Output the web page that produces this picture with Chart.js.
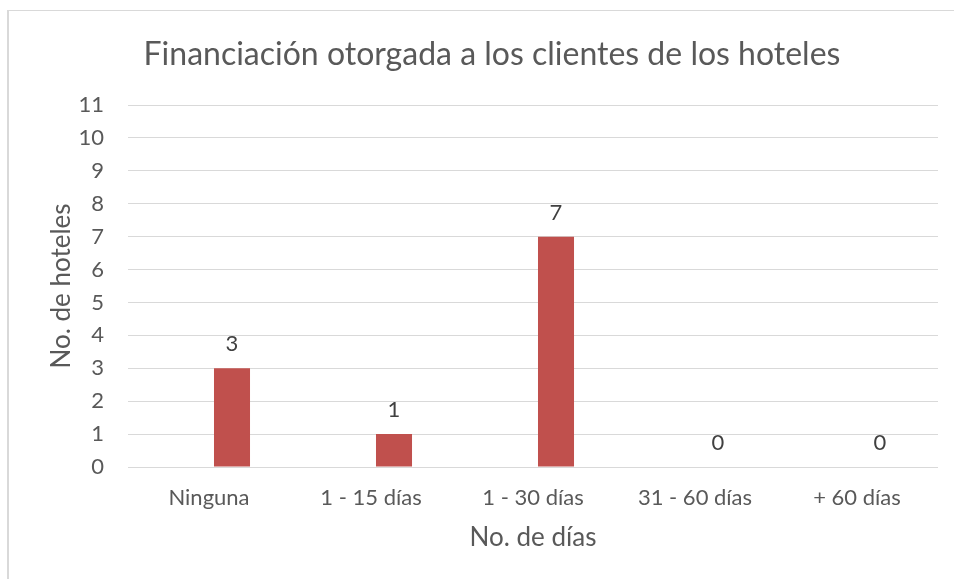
<!DOCTYPE html>
<html>
<head>
<meta charset="utf-8">
<script src="https://cdn.jsdelivr.net/npm/chart.js@4"></script>
<style>
  html, body { margin: 0; padding: 0; background: #fff; overflow: hidden; }
  #frame { position: absolute; left: 7px; top: 10px; width: 1000px; height: 600px; border: 2px solid #d9d9d9; border-width: 1px 0 0 2px; }
  #wrap { position: absolute; left: 0; top: 0; width: 954px; height: 579px; }
</style>
</head>
<body>
<div id="frame"></div>
<div id="wrap"><canvas id="chart" width="954" height="579"></canvas></div>
<script>
// Data
const categories = ['Ninguna', '1 - 15 días', '1 - 30 días', '31 - 60 días', '+ 60 días'];
const hotelCounts = [3, 1, 7, 0, 0];
// empty first series of the original workbook, it only shifts the bars right
const emptySeries = [null, null, null, null, null];
const yTicks = [0, 1, 2, 3, 4, 5, 6, 7, 8, 9, 10, 11];

const FONT = 'Lato, "Open Sans", sans-serif';

// draws the value above each bar
const valueLabels = {
  id: 'valueLabels',
  afterDatasetsDraw(chart) {
    const ctx = chart.ctx;
    const meta = chart.getDatasetMeta(1);
    ctx.save();
    ctx.font = '22px ' + FONT;
    ctx.fillStyle = '#404040';
    ctx.textAlign = 'center';
    ctx.textBaseline = 'middle';
    meta.data.forEach((bar, i) => {
      ctx.fillText(String(hotelCounts[i]), bar.x, bar.y - 24);
    });
    ctx.restore();
  }
};

const ctx = document.getElementById('chart').getContext('2d');
new Chart(ctx, {
  type: 'bar',
  data: {
    labels: categories,
    datasets: [{
      label: '',
      data: emptySeries,
      backgroundColor: 'rgba(0,0,0,0)',
      borderWidth: 0,
      barPercentage: 0.783,
      categoryPercentage: 0.568
    }, {
      label: 'No. de hoteles',
      data: hotelCounts,
      backgroundColor: '#c0504d',
      borderWidth: 0,
      barPercentage: 0.783,
      categoryPercentage: 0.568
    }]
  },
  options: {
    responsive: false,
    animation: false,
    layout: { padding: { left: 46, right: 16, top: 0, bottom: 25.4 } },
    plugins: {
      legend: { display: false },
      tooltip: { enabled: false },
      title: {
        display: true,
        text: 'Financiación otorgada a los clientes de los hoteles',
        color: '#595959',
        font: { family: FONT, size: 32, weight: 'normal' },
        padding: { top: 35.8, bottom: 30.8 }
      }
    },
    scales: {
      x: {
        grid: { display: false, drawTicks: false },
        border: { display: false },
        ticks: { color: '#595959', font: { family: FONT, size: 22 }, padding: 18 },
        title: {
          display: true,
          text: 'No. de días',
          color: '#595959',
          font: { family: FONT, size: 26 },
          padding: 0
        },
        afterFit(scale) { scale.height = 86.6; }
      },
      y: {
        min: 0,
        max: 11,
        afterBuildTicks(scale) { scale.ticks = yTicks.map(v => ({ value: v })); },
        grid: { color: '#d9d9d9', lineWidth: 1, drawTicks: false },
        border: { display: false },
        ticks: { color: '#595959', font: { family: FONT, size: 22 }, padding: 24 },
        title: {
          display: true,
          text: 'No. de hoteles',
          color: '#595959',
          font: { family: FONT, size: 26 },
          padding: 0
        },
        afterFit(scale) { scale.width = 82; }
      }
    }
  },
  plugins: [valueLabels]
});
</script>
</body>
</html>
